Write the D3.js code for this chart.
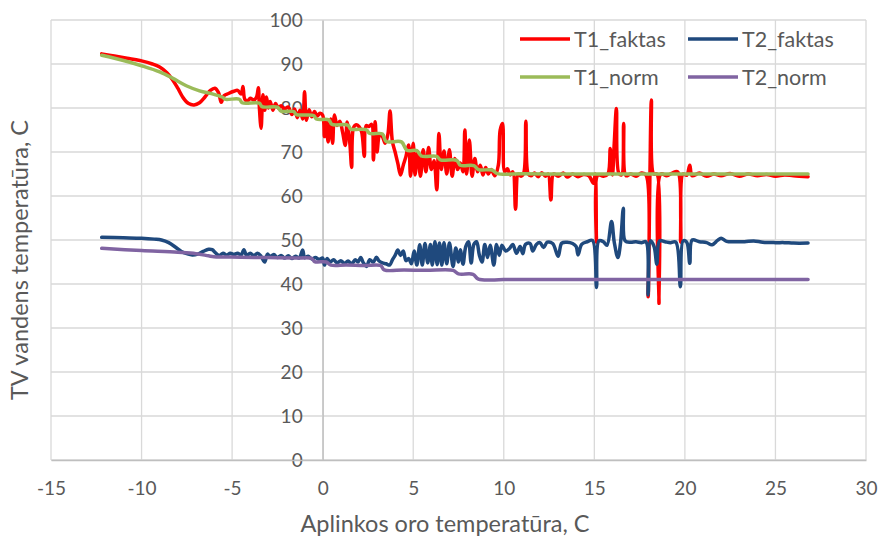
<!DOCTYPE html>
<html>
<head>
<meta charset="utf-8">
<script src="https://cdn.jsdelivr.net/npm/d3@7"></script>
<style>
  body { margin: 0; background: #ffffff; }
  text { font-family: Lato, "Open Sans", sans-serif; fill: #595959; }
</style>
</head>
<body>
<svg id="chart" width="880" height="538"></svg>
<script>
// Axis ticks
const xTicks = [-15, -10, -5, 0, 5, 10, 15, 20, 25, 30];
const yTicks = [0, 10, 20, 30, 40, 50, 60, 70, 80, 90, 100];

// Series names (legend order)
const seriesNames = ["T1_faktas", "T2_faktas", "T1_norm", "T2_norm"];

// Measured supply temperature T1 vs outdoor temperature [x, y]
const t1Faktas = [
  [-12.2, 92.3], [-11.5, 91.8], [-10.8, 91.3], [-10.0, 90.7], [-9.4, 90.0], [-9.0, 89.3],
  [-8.6, 88.0], [-8.3, 86.5], [-8.0, 84.5], [-7.7, 82.3], [-7.4, 81.0], [-7.1, 80.7],
  [-6.8, 81.2], [-6.5, 82.5], [-6.2, 84.0], [-5.95, 84.5], [-5.75, 83.5], [-5.6, 81.3],
  [-5.45, 82.8], [-5.2, 83.3], [-4.9, 83.8], [-4.7, 84.0], [-4.5, 83.2], [-4.4, 84.9],
  [-4.3, 82.0], [-4.15, 81.6], [-4.0, 82.2], [-3.8, 81.8], [-3.65, 82.5], [-3.55, 84.6],
  [-3.5, 80.5], [-3.4, 75.4], [-3.3, 83.0], [-3.2, 79.5], [-3.1, 82.5], [-3.0, 80.0],
  [-2.9, 81.5], [-2.75, 79.5], [-2.6, 81.0], [-2.45, 80.0], [-2.3, 80.5], [-2.1, 79.8],
  [-1.9, 80.2], [-1.7, 78.5], [-1.55, 79.8], [-1.4, 77.8], [-1.25, 79.5], [-1.1, 77.5],
  [-1.0, 83.7], [-0.9, 77.2], [-0.75, 79.6], [-0.6, 78.0], [-0.45, 79.2], [-0.3, 78.2],
  [-0.15, 78.8], [0.0, 78.4], [0.1, 73.5], [0.2, 77.0], [0.3, 72.3], [0.45, 77.5],
  [0.55, 72.0], [0.65, 78.4], [0.8, 76.0], [0.95, 77.0], [1.1, 74.5], [1.25, 71.5],
  [1.35, 76.8], [1.5, 72.0], [1.6, 66.5], [1.7, 75.5], [1.85, 76.2], [2.0, 75.8],
  [2.15, 74.6], [2.3, 69.0], [2.4, 76.0], [2.55, 75.8], [2.7, 76.3], [2.8, 68.2],
  [2.9, 76.9], [3.0, 70.0], [3.15, 74.0], [3.3, 73.5], [3.45, 72.0], [3.6, 74.0],
  [3.72, 79.3], [3.85, 72.4], [4.0, 70.0], [4.15, 67.4], [4.3, 64.8], [4.45, 67.0],
  [4.6, 69.0], [4.75, 71.6], [4.85, 64.5], [5.0, 72.0], [5.1, 64.8], [5.25, 70.0],
  [5.4, 64.5], [5.55, 70.5], [5.7, 65.5], [5.85, 71.0], [6.0, 66.0], [6.15, 68.0],
  [6.3, 61.4], [6.42, 74.2], [6.55, 66.0], [6.7, 70.2], [6.85, 65.0], [7.0, 70.5],
  [7.15, 64.5], [7.3, 68.5], [7.45, 66.0], [7.6, 67.5], [7.75, 65.5], [7.85, 75.0],
  [7.95, 65.0], [8.1, 72.7], [8.25, 64.5], [8.4, 68.5], [8.55, 65.5], [8.7, 67.0],
  [8.85, 64.8], [9.0, 66.5], [9.15, 65.0], [9.3, 66.0], [9.5, 64.6], [9.7, 67.0],
  [9.8, 75.0], [9.93, 76.5], [10.05, 65.5], [10.2, 66.2], [10.35, 64.8], [10.5, 65.5],
  [10.65, 57.0], [10.8, 65.0], [10.95, 64.5], [11.1, 65.2], [11.22, 77.0], [11.35, 65.0],
  [11.5, 64.6], [11.7, 65.2], [11.9, 64.4], [12.1, 65.3], [12.3, 64.5], [12.45, 65.0],
  [12.6, 59.1], [12.75, 65.0], [13.0, 64.5], [13.3, 65.2], [13.5, 64.3], [13.8, 65.0],
  [14.1, 64.4], [14.4, 64.9], [14.7, 64.6], [14.95, 62.9], [15.05, 65.0], [15.12, 49.5],
  [15.2, 64.8], [15.5, 64.5], [15.75, 65.0], [15.88, 70.8], [16.0, 64.8], [16.1, 72.0],
  [16.22, 79.9], [16.35, 65.2], [16.5, 64.8], [16.62, 76.5], [16.75, 64.6], [17.0, 65.0],
  [17.3, 64.5], [17.6, 65.2], [17.85, 64.8], [17.97, 37.1], [18.07, 65.0], [18.15, 81.8],
  [18.28, 65.0], [18.45, 65.0], [18.57, 35.6], [18.68, 65.0], [19.0, 64.6], [19.3, 65.2],
  [19.6, 65.5], [19.77, 49.5], [19.9, 65.0], [20.1, 64.7], [20.27, 67.0], [20.4, 64.6],
  [20.8, 65.2], [21.2, 64.5], [21.6, 65.0], [22.0, 64.6], [22.5, 65.1], [23.0, 64.5],
  [23.5, 65.0], [24.0, 64.6], [24.5, 64.9], [25.0, 64.5], [25.5, 64.8], [26.0, 64.6],
  [26.8, 64.4]
];

// Measured return temperature T2 vs outdoor temperature [x, y]
const t2Faktas = [
  [-12.2, 50.6], [-11.0, 50.5], [-10.0, 50.4], [-9.3, 50.2], [-8.9, 50.0], [-8.5, 49.4],
  [-8.1, 48.3], [-7.8, 47.4], [-7.5, 46.9], [-7.2, 46.6], [-6.9, 46.8], [-6.6, 47.4],
  [-6.3, 47.9], [-6.1, 47.8], [-5.9, 47.0], [-5.7, 46.5], [-5.5, 47.0], [-5.3, 46.6],
  [-5.1, 47.0], [-4.9, 46.7], [-4.7, 47.0], [-4.5, 46.6], [-4.35, 47.8], [-4.2, 46.5],
  [-4.0, 47.0], [-3.8, 46.4], [-3.6, 47.0], [-3.4, 46.3], [-3.2, 45.0], [-3.05, 46.8],
  [-2.9, 46.2], [-2.7, 46.7], [-2.5, 46.0], [-2.3, 46.5], [-2.1, 45.9], [-1.9, 46.4],
  [-1.7, 45.8], [-1.5, 46.3], [-1.3, 45.9], [-1.1, 47.7], [-1.0, 46.0], [-0.8, 46.3],
  [-0.6, 45.7], [-0.4, 46.0], [-0.2, 45.6], [0.0, 45.9], [0.1, 44.3], [0.25, 45.8],
  [0.4, 45.0], [0.6, 45.5], [0.8, 44.8], [1.0, 45.3], [1.2, 44.7], [1.4, 45.2],
  [1.6, 44.6], [1.8, 45.5], [1.95, 45.0], [2.1, 46.0], [2.25, 44.8], [2.42, 44.0],
  [2.6, 45.5], [2.8, 45.0], [2.97, 46.1], [3.1, 45.3], [3.3, 44.8], [3.5, 44.6],
  [3.7, 44.3], [3.85, 45.5], [4.0, 46.5], [4.15, 47.7], [4.3, 46.5], [4.45, 47.5],
  [4.6, 45.3], [4.75, 45.8], [4.9, 44.6], [5.05, 47.5], [5.2, 44.3], [5.36, 48.9],
  [5.5, 44.3], [5.65, 49.2], [5.8, 44.8], [5.95, 49.0], [6.05, 44.3], [6.2, 49.6],
  [6.32, 44.4], [6.45, 49.3], [6.58, 44.3], [6.7, 49.4], [6.85, 44.6], [7.0, 49.3],
  [7.2, 44.0], [7.35, 48.2], [7.5, 45.0], [7.6, 47.8], [7.75, 44.5], [7.9, 48.5],
  [8.05, 49.6], [8.2, 44.8], [8.35, 49.0], [8.5, 49.6], [8.65, 46.6], [8.8, 45.0],
  [8.95, 49.0], [9.1, 46.0], [9.25, 48.8], [9.45, 44.3], [9.6, 49.0], [9.75, 46.5],
  [9.9, 48.8], [10.1, 47.5], [10.3, 48.0], [10.5, 49.0], [10.7, 47.0], [10.9, 48.5],
  [11.05, 46.9], [11.2, 49.0], [11.45, 49.2], [11.6, 47.5], [11.8, 49.0], [12.0, 49.4],
  [12.2, 48.3], [12.4, 49.5], [12.7, 49.2], [13.0, 46.3], [13.2, 49.3], [13.5, 49.5],
  [13.8, 49.2], [14.0, 48.5], [14.1, 46.6], [14.3, 49.0], [14.6, 49.6], [14.9, 49.9],
  [15.12, 39.2], [15.25, 49.8], [15.5, 49.6], [15.7, 48.8], [15.95, 54.2], [16.1, 49.5],
  [16.3, 46.0], [16.45, 49.5], [16.6, 57.2], [16.7, 49.8], [17.0, 49.5], [17.3, 49.6],
  [17.6, 49.4], [17.85, 49.6], [17.97, 37.5], [18.1, 49.8], [18.3, 48.5], [18.45, 44.5],
  [18.6, 49.8], [18.9, 49.6], [19.2, 49.4], [19.5, 49.5], [19.75, 39.4], [19.9, 49.8],
  [20.1, 49.5], [20.27, 44.7], [20.4, 50.0], [20.8, 49.6], [21.2, 49.4], [21.5, 48.9],
  [21.8, 49.9], [22.0, 50.4], [22.3, 49.7], [22.8, 49.6], [23.3, 49.6], [23.8, 49.8],
  [24.3, 49.5], [25.0, 49.4], [25.5, 49.4], [26.0, 49.3], [26.8, 49.3]
];

// Standard (schedule) supply temperature T1 [x, y]
const t1Norm = [
  [-12.2, 92.0], [-11.0, 90.8], [-10.0, 89.6], [-9.0, 88.2], [-8.3, 86.8], [-7.5, 85.0],
  [-6.8, 83.9], [-6.0, 83.1], [-5.5, 82.4], [-5.4, 82.0], [-4.6, 82.0], [-4.45, 81.2],
  [-3.5, 81.1], [-3.35, 80.3], [-2.5, 80.2], [-2.3, 79.3], [-1.6, 79.2], [-1.45, 78.5],
  [-0.5, 78.3], [-0.35, 77.5], [0.35, 77.3], [0.5, 76.3], [1.4, 76.1], [1.55, 75.2],
  [2.4, 75.1], [2.6, 74.2], [3.3, 74.1], [3.5, 72.4], [4.35, 72.3], [4.65, 70.4],
  [5.2, 70.3], [5.45, 69.1], [6.3, 69.0], [6.5, 68.2], [7.4, 68.1], [7.6, 67.0],
  [8.35, 66.9], [8.6, 66.0], [9.35, 65.9], [9.65, 65.1], [11.0, 65.05], [13.0, 65.0],
  [15.0, 65.0], [17.0, 65.0], [19.0, 65.0], [21.0, 65.0], [23.0, 65.0], [25.0, 65.0],
  [26.8, 65.0]
];

// Standard (schedule) return temperature T2 [x, y]
const t2Norm = [
  [-12.2, 48.1], [-10.0, 47.6], [-8.0, 47.2], [-7.0, 46.9], [-6.3, 46.4], [-6.0, 46.2],
  [-4.5, 46.1], [-3.0, 46.0], [-1.5, 45.9], [-0.6, 45.8], [-0.45, 45.1], [0.2, 45.0],
  [0.45, 44.3], [1.3, 44.3], [2.3, 44.2], [3.2, 44.2], [3.4, 43.2], [4.5, 43.2],
  [5.7, 43.1], [7.2, 43.1], [7.5, 42.3], [8.3, 42.2], [8.6, 41.1], [10.0, 41.0],
  [12.0, 41.0], [14.0, 41.0], [16.0, 41.0], [18.0, 41.0], [20.0, 41.0], [22.0, 41.0],
  [24.0, 41.0], [26.8, 41.0]
];

const series = [t1Faktas, t2Faktas, t1Norm, t2Norm];
const colors = ["#ff0000", "#1f497d", "#9bbb59", "#8064a2"];

const svg = d3.select("#chart");
const plot = { left: 51, right: 866, top: 20, bottom: 460 };

const x = d3.scaleLinear().domain([-15, 30]).range([plot.left, plot.right]);
const y = d3.scaleLinear().domain([0, 100]).range([plot.bottom, plot.top]);

// Gridlines
const grid = svg.append("g");
grid.selectAll(".gx").data(xTicks).join("line")
  .attr("x1", d => x(d)).attr("x2", d => x(d))
  .attr("y1", y(0)).attr("y2", y(100))
  .attr("stroke", "#d9d9d9").attr("stroke-width", 1.3);
grid.selectAll(".gy").data(yTicks).join("line")
  .attr("x1", x(-15)).attr("x2", x(30))
  .attr("y1", d => y(d)).attr("y2", d => y(d))
  .attr("stroke", "#d9d9d9").attr("stroke-width", 1.3);

// Axes crossing at the origin; labels use a plain hyphen for negatives
const fmt = d => String(d);
const yAxis = svg.append("g")
  .attr("transform", `translate(${x(0)},0)`)
  .call(d3.axisLeft(y).tickValues(yTicks).tickFormat(fmt).tickSize(0).tickPadding(20));
yAxis.select(".domain").attr("stroke", "#bfbfbf").attr("stroke-width", 1.3);
yAxis.selectAll("text").style("font-size", "19px").attr("fill", "#595959");

const xAxis = svg.append("g")
  .attr("transform", `translate(0,${y(0)})`)
  .call(d3.axisBottom(x).tickValues(xTicks).tickFormat(fmt).tickSize(0).tickPadding(22));
xAxis.select(".domain").attr("stroke", "#bfbfbf").attr("stroke-width", 1.3);
xAxis.selectAll("text").style("font-size", "19px").attr("fill", "#595959");

// Series lines
const line = d3.line()
  .x(d => x(d[0]))
  .y(d => y(d[1]))
  .curve(d3.curveCatmullRom.alpha(0.5));

svg.append("g").selectAll("path").data(series).join("path")
  .attr("d", d => line(d))
  .attr("fill", "none")
  .attr("stroke", (d, i) => colors[i])
  .attr("stroke-width", 3.5)
  .attr("stroke-linejoin", "round")
  .attr("stroke-linecap", "round");

// Legend
const legendPos = [[520, 39], [688, 39], [520, 77], [688, 77]];
const legend = svg.append("g");
seriesNames.forEach((name, i) => {
  const [lx, ly] = legendPos[i];
  legend.append("line")
    .attr("x1", lx).attr("x2", lx + 50)
    .attr("y1", ly).attr("y2", ly)
    .attr("stroke", colors[i]).attr("stroke-width", 3.5);
  legend.append("text")
    .attr("x", lx + 54).attr("y", ly)
    .attr("dy", "0.35em")
    .style("font-size", "21.5px")
    .text(name);
});

// Axis titles
svg.append("text")
  .attr("x", 445).attr("y", 524)
  .attr("text-anchor", "middle")
  .attr("dy", "0.35em")
  .style("font-size", "23.5px")
  .text("Aplinkos oro temperatūra, C");

svg.append("text")
  .attr("transform", "translate(20,260) rotate(-90)")
  .attr("text-anchor", "middle")
  .attr("dy", "0.35em")
  .style("font-size", "23.5px")
  .text("TV vandens temperatūra, C");
</script>
</body>
</html>
